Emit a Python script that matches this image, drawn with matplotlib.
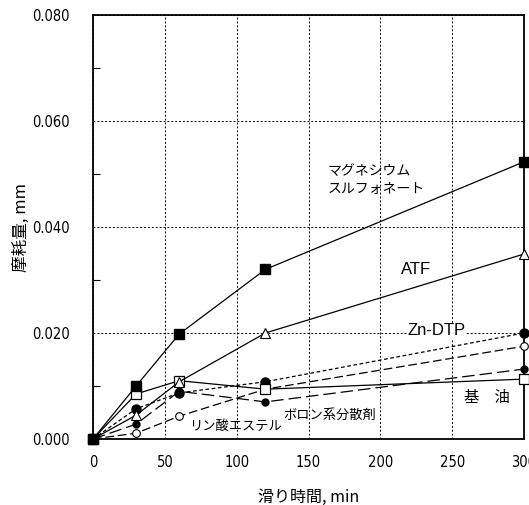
import matplotlib
matplotlib.use("Agg")
import matplotlib.pyplot as plt
from matplotlib import font_manager
from matplotlib.ticker import MultipleLocator

plt.rcParams['font.family'] = ['Liberation Sans', 'Noto Sans CJK JP', 'DejaVu Sans']

# sliding time, min
times = [0, 30, 60, 120, 300]

# wear, mm
mg_sulfonate = [0.0, 0.0100, 0.0198, 0.0320, 0.0523]
atf = [0.0, 0.0045, 0.0108, 0.0200, 0.0349]
base_oil = [0.0, 0.0085, 0.0110, 0.0094, 0.0113]
zn_dtp = [0.0, 0.0057, 0.0087, 0.0108, 0.0200]
boron = [0.0, 0.0028, 0.0090, 0.0070, 0.0132]
phosphate = [0.0, 0.0011, 0.0043, 0.0094, 0.0175]

# tick numbers in the original are narrow; use a condensed face if one is there
fonts = font_manager.fontManager.ttflist
if any(f.name == "Liberation Sans Narrow" for f in fonts):
    tick_font = dict(family="Liberation Sans Narrow", size=11.5)
elif any(f.name == "DejaVu Sans" and f.stretch == "condensed" for f in fonts):
    tick_font = dict(family="DejaVu Sans", stretch="condensed", size=10.5)
else:
    tick_font = dict(family="Liberation Sans", size=10.5)

fig = plt.figure(figsize=(5.29, 5.05), dpi=100)
ax = fig.add_axes([93/529, 1 - 439/505, 431/529, 424/505])

lw = 0.9
ax.plot(times, phosphate, color="black", lw=lw, dashes=(7, 3), marker="o", ms=5.5,
        mfc="white", mec="black", mew=0.8, clip_on=False, zorder=3)
ax.plot(times, boron, color="black", lw=lw, dashes=(10, 4), marker="o", ms=5,
        mfc="black", mec="black", clip_on=False, zorder=3)
ax.plot(times, zn_dtp, color="black", lw=lw, dashes=(3, 2), marker="o", ms=6.5,
        mfc="black", mec="black", clip_on=False, zorder=3)
ax.plot(times, base_oil, color="black", lw=lw, marker="s", ms=7,
        mfc="white", mec="black", mew=0.9, clip_on=False, zorder=4)
ax.plot(times, atf, color="black", lw=lw, marker="^", ms=7.5,
        mfc="white", mec="black", mew=0.8, clip_on=False, zorder=4)
ax.plot(times, mg_sulfonate, color="black", lw=lw, marker="s", ms=6.5,
        mfc="black", mec="black", clip_on=False, zorder=5)

ax.set_xlim(0, 300)
ax.set_ylim(0, 0.080)
ax.xaxis.set_major_locator(MultipleLocator(50))
ax.yaxis.set_major_locator(MultipleLocator(0.02))
ax.yaxis.set_minor_locator(MultipleLocator(0.01))
ax.grid(True, which="major", color="black", ls=(0, (2, 2)), lw=0.7)
ax.tick_params(which="major", length=0)
ax.tick_params(axis="x", pad=11.5)
ax.tick_params(axis="y", pad=17)
ax.tick_params(axis="y", which="minor", direction="in", length=5, width=0.8)
ax.set_xticks(ax.get_xticks(), [f"{int(v)}" for v in ax.get_xticks()], **tick_font)
ax.set_yticks(ax.get_yticks(), [f"{v:.3f}" for v in ax.get_yticks()], **tick_font)
ax.set_xlim(0, 300)
ax.set_ylim(0, 0.080)
for s in ax.spines.values():
    s.set_linewidth(1.3)

jp = ['Noto Sans CJK JP', 'DejaVu Sans']
ax.set_xlabel("滑り時間, min", fontsize=11.5, family=jp, labelpad=14)
ax.set_ylabel("摩耗量, mm", fontsize=12, family=jp, labelpad=1)

ax.text(163, 0.0489, "マグネシウム\nスルフォネート", fontsize=10, family=jp, ha="left", va="center", linespacing=1.3)
ax.text(225, 0.0319, "ATF", fontsize=12, ha="center", va="center")
ax.text(239, 0.0204, "Zn-DTP", fontsize=12, ha="center", va="center",
        bbox=dict(facecolor="white", edgecolor="none", pad=0.5))
ax.text(274, 0.0079, "基　油", fontsize=11, family=jp, ha="center", va="center")
ax.text(165, 0.0045, "ボロン系分散剤", fontsize=9.5, family=jp, ha="center", va="center")
ax.text(99, 0.0023, "リン酸エステル", fontsize=9.5, family=jp, ha="center", va="center")

fig.savefig("out.png", dpi=100)
